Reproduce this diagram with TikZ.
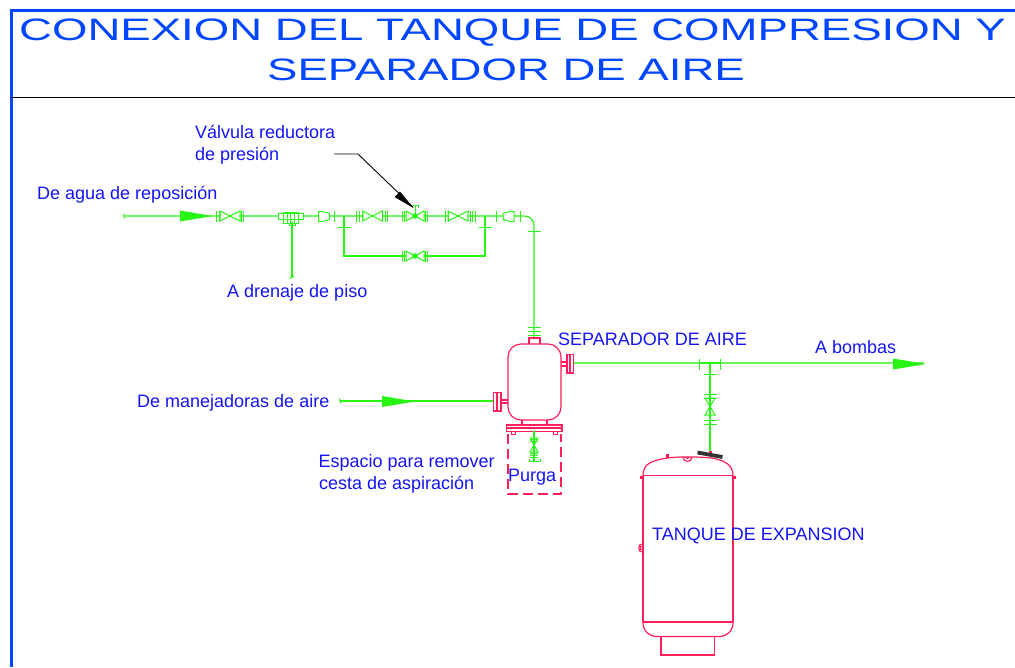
\documentclass[tikz,border=0pt]{standalone}
\usepackage{fontspec}
\setmainfont{Liberation Sans}
\usetikzlibrary{calc}
\definecolor{pipe}{RGB}{40,245,20}
\definecolor{vessel}{RGB}{255,30,90}
\definecolor{labelblue}{RGB}{20,20,245}
\definecolor{titleblue}{RGB}{0,70,255}
\tikzset{
  pipeline/.style={draw=pipe,line width=1.2pt},
  fitting/.style={draw=pipe,line width=1pt},
  vesselline/.style={draw=vessel,line width=1.2pt},
  lbl/.style={text=labelblue,font=\fontsize{18}{20}\selectfont,inner sep=0pt,anchor=base west},
  ttl/.style={text=titleblue,font=\fontsize{31}{34}\selectfont,inner sep=0pt,anchor=base},
  hvalve/.pic={\draw[fitting] (-10,-5)--(10,5)--(10,-5)--(-10,5)--cycle;},
  htick/.pic={\draw[fitting] (0,-5.5)--(0,5.5);},
  vtick/.pic={\draw[fitting] (-6.5,0)--(6.5,0);},
  reducerR/.pic={\draw[fitting] (-5.5,-3)--(2,-5)--(5.5,-5)--(5.5,5)--(2,5)--(-5.5,3)--cycle;},
  reducerL/.pic={\draw[fitting] (5.5,-3)--(-2,-5)--(-5.5,-5)--(-5.5,5)--(-2,5)--(5.5,3)--cycle;},
  flowarrow/.pic={\fill[pipe] (-16,-5.5)--(17,0)--(-16,5.5)--cycle;},
}
\begin{document}
\begin{tikzpicture}[x=1pt,y=-1pt]
\useasboundingbox (0,0) rectangle (1015,667);
% frame
\draw[titleblue,line width=3pt] (11,667)--(11,10)--(1015,10);
\draw[black,line width=1pt] (11,97.5)--(1015,97.5);
% title
\node[ttl] (title1) at (512.5,40) {\scalebox{1.47}[1]{CONEXION DEL TANQUE DE COMPRESION Y}};
\node[ttl] (title2) at (506,80.5) {\scalebox{1.47}[1]{SEPARADOR DE AIRE}};
% named pipe points
\coordinate (mainstart) at (124,216);
\coordinate (bendin) at (524,216);
\coordinate (bendout) at (534,226);
\coordinate (sepin) at (534,338);
\coordinate (bypassL) at (344,216);
\coordinate (bypassLb) at (344,256);
\coordinate (bypassRb) at (485,256);
\coordinate (bypassR) at (485,216);
\coordinate (drainT) at (292,216);
\coordinate (drainE) at (292,277);
\coordinate (airIn) at (340,401);
\coordinate (airEnd) at (493,401);
\coordinate (outStart) at (574,363);
\coordinate (outEnd) at (924,363);
\coordinate (teeT) at (710,363);
\coordinate (teeB) at (710,451);
\coordinate (purgeT) at (534,431);
\coordinate (purgeB) at (534,461);
% pipes
\draw[pipeline] (mainstart)--(bendin) .. controls (530,216) and (534,220) .. (bendout)--(sepin);
\draw[pipeline] (bypassL)--(bypassLb)--(bypassRb)--(bypassR);
\draw[pipeline] (drainT)--(drainE);
\draw[fitting] ($(mainstart)+(-.5,-2.5)$)--($(mainstart)+(.5,2.5)$);
\draw[fitting] ($(drainE)+(-3,1.5)$)--($(drainE)+(2,-.5)$);
% arrow + valves on main line
\pic at (196,216) {flowarrow};
\foreach \x in {216.5,219,241,243.5,334,356,359,385,387,445,448,470,472.5,475,496,520}{\pic at (\x,216) {htick};}
\foreach \x in {230,372.5,458}{\fill[white] (\x-9,211) rectangle (\x+9,221);\pic at (\x,216) {hvalve};}
\foreach \y in {216,256}{
  \fill[white] (406,\y-5) rectangle (424,\y+5);
  \draw[fitting] (406,\y-5)--(424,\y+5)--(424,\y-5)--(406,\y+5)--cycle;
  \fill[pipe] (415,\y) circle (2.8);
  \foreach \x in {402,404.5,425.5,427.5}{\pic at (\x,\y) {htick};}
}
\draw[fitting] (415,216)--(415,205.5) (413,205.5)--(418,205.5)--(418,208);
% strainer
\fill[white] (278,212) rectangle (304,222);
\draw[fitting] (278,213.5) rectangle (303,219.5);
\draw[fitting] (283,212) rectangle (298,223);
\draw[fitting] (287,212)--(287,223) (290,212)--(290,223) (294,212)--(294,223);
\draw[fitting] (289,223)--(289,225.5)--(295,225.5)--(295,223);
% reducers
\fill[white] (319,212) rectangle (329,221);
\pic at (324,216.5) {reducerL};
\fill[white] (503,211) rectangle (514,221);
\pic at (508.5,216.5) {reducerR};
% bypass ticks
\pic at (344,227) {vtick};
\pic at (485,227) {vtick};
% ticks before separator
\pic at (534,231) {vtick};
\foreach \y in {327,331,335}{\pic at (534,\y) {vtick};}
% separator
\draw[vesselline,rounded corners=13pt] (508,344) rectangle (561,420);
\draw[vesselline] (529,344)--(529,338)--(540,338)--(540,344);
\draw[vesselline] (561,362)--(567,362) (561,366)--(567,366);
\draw[vesselline] (567,354.5) rectangle (573.5,373);
\draw[vesselline] (570,354.5)--(570,373);
\draw[vesselline] (493.5,392.5) rectangle (501,411);
\draw[vesselline] (497,392.5)--(497,411);
\draw[vesselline] (501,400)--(508,400) (501,403)--(508,403);
\draw[vesselline] (522,420)--(522,425) (547,420)--(547,425);
\draw[vesselline] (506.5,425) rectangle (562,431.5);
\draw[vesselline] (506.5,428)--(562,428);
\draw[vesselline] (511.5,431.5) rectangle (515.5,434.5);
\draw[vesselline] (553.5,431.5) rectangle (557.5,434.5);
\draw[vesselline,dash pattern=on 10pt off 5pt] (508,434)--(508,494)--(561,494)--(561,434);
% outgoing, incoming
\draw[pipeline,draw=pipe!70!white,line width=1.8pt] (outStart)--(outEnd);
\pic at (909,364) {flowarrow};
\draw[pipeline] (airIn)--(airEnd);
\pic at (398,401.5) {flowarrow};
\draw[fitting] ($(airIn)+(-.5,-2.5)$)--($(airIn)+(.5,2.5)$);
% purge
\draw[pipeline] (purgeT)--(purgeB);
\draw[fitting] (530,438)--(538,452)--(530,452)--(538,438)--cycle;
\foreach \y in {439,441,453,455,457}{\draw[fitting] (530,\y)--(538,\y);}
\draw[fitting] (529,459)--(529,461)--(540,461)--(540,459);
% junction and tank drop
\draw[pipeline] (teeT)--(teeB);
\draw[pipeline,line width=1.8pt] (699,363)--(720,363);
\foreach \x in {699,720.5}{\pic at (\x,364) {htick};}
\pic at (710,374) {vtick};
\foreach \y in {394,398,420,424}{\pic at (710,\y) {vtick};}
\draw[fitting] (705,398)--(715,415)--(705,415)--(715,398)--cycle;
% tank
\draw[vesselline] (643,476)--(643,622) (733,476)--(733,622);
\draw[vesselline] (643,476) .. controls (643,464) and (650,461) .. (667,458) .. controls (680,456.5) and (695,456.5) .. (712,458) .. controls (726,461) and (733,465) .. (733,476);
\draw[vesselline] (643,475.5)--(733,475.5);
\fill[vessel] (640,476) rectangle (643,479);
\fill[vessel] (733,476) rectangle (736,479);
\draw[vesselline] (643,622)--(733,622);
\draw[vesselline] (643,622) .. controls (643,631) and (649,636.5) .. (657,636.5)--(719,636.5) .. controls (727,636.5) and (733,631) .. (733,622);
\draw[vesselline] (661,636.5)--(661,655)--(714.5,655)--(714.5,636.5);
\fill[vessel] (666,454) rectangle (669,458);
\draw[vesselline] (683,457) arc (180:0:4.5);
\draw[vesselline] (686,457) arc (180:0:1.5);
\fill[vessel] (708.5,450.5) rectangle (711.5,453);
\draw[black!80,line width=3.8pt] (697.5,452.5)--(722.5,457);
\draw[vesselline] (641.5,544) .. controls (638,544) and (638,552) .. (641.5,552);
\draw[vesselline] (641.5,546) .. controls (640,546) and (640,550) .. (641.5,550);
% leader
\coordinate (leadA) at (334,154);
\coordinate (leadB) at (358,154);
\coordinate (leadC) at (413,207);
\draw[black,line width=.9pt] (leadA)--(leadB)--(leadC);
\fill[black] (400,191.5)--(413.5,208)--(394.5,197)--cycle;
% labels
\node[lbl] (l1) at (195,138) {Válvula reductora};
\node[lbl] (l2) at (195,160) {de presión};
\node[lbl] (l3) at (37,199) {De agua de reposición};
\node[lbl] (l4) at (227,297) {A drenaje de piso};
\node[lbl] (l5) at (558,345) {SEPARADOR DE AIRE};
\node[lbl] (l6) at (815,353) {A bombas};
\node[lbl] (l7) at (137,407) {De manejadoras de aire};
\node[lbl] (l8) at (318.5,467) {Espacio para remover};
\node[lbl] (l9) at (319,489) {cesta de aspiración};
\node[lbl] (l10) at (508,481) {Purga};
\node[lbl] (l11) at (652,540) {TANQUE DE EXPANSION};
\end{tikzpicture}
\end{document}
